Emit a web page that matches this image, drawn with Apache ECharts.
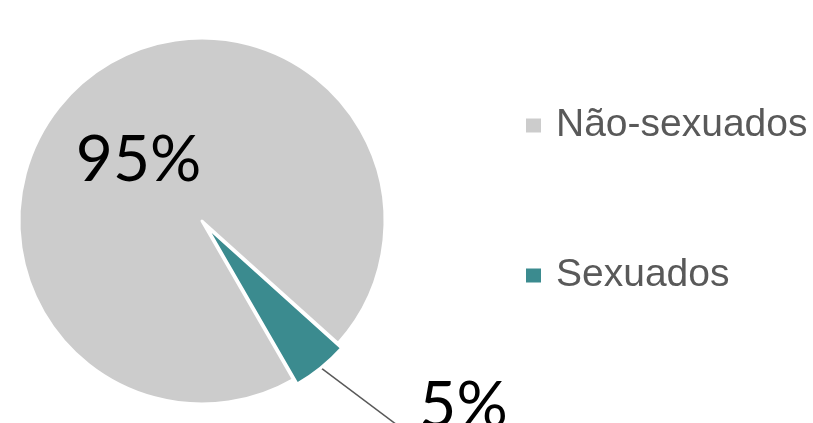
<!DOCTYPE html>
<html>
<head>
<meta charset="utf-8">
<script src="https://cdn.jsdelivr.net/npm/echarts@6/dist/echarts.min.js"></script>
<style>
  html, body { margin: 0; padding: 0; background: #fff; }
  #chart { width: 813px; height: 423px; }
</style>
</head>
<body>
<div id="chart"></div>
<script>
const categories = ['Não-sexuados', 'Sexuados'];
const values = [95, 5];
const colors = ['#cccccc', '#3b8b8f'];

const chart = echarts.init(document.getElementById('chart'));

const pieData = categories.map((name, i) => ({
  name,
  value: values[i],
  itemStyle: { color: colors[i] },
  selected: i === 1,
  label: i === 0
    ? { position: 'inside', offset: [-4, 13] }
    : { position: 'outside' },
  labelLine: { show: i === 1 },
}));

chart.setOption({
  animation: false,
  legend: {
    orient: 'vertical',
    left: 519,
    top: 101,
    itemGap: 111,
    itemWidth: 17,
    itemHeight: 16,
    icon: 'rect',
    selectedMode: false,
    data: categories,
    textStyle: {
      color: '#595959',
      fontFamily: 'Liberation Sans, Arial',
      fontSize: 39,
      padding: [0, 0, 0, 9],
    },
  },
  series: [
    {
      type: 'pie',
      center: [202, 221],
      radius: 183,
      startAngle: 300,
      clockwise: true,
      selectedMode: 'single',
      selectedOffset: 6,
      avoidLabelOverlap: false,
      itemStyle: { borderColor: '#ffffff', borderWidth: 3 },
      label: {
        formatter: '{d}%',
        color: '#000000',
        fontFamily: 'Lato',
        fontSize: 64,
      },
      labelLine: {
        length: 45,
        length2: 55,
        lineStyle: { color: '#595959', width: 1.5 },
      },
      labelLayout: function (params) {
        if (params.dataIndex === 1 && params.labelLinePoints) {
          // straight leader line running down past the bottom edge
          const p0 = params.labelLinePoints[0];
          return {
            dx: 10,
            dy: 4,
            labelLinePoints: [p0, [p0[0] + 100, p0[1] + 75]],
          };
        }
        return {};
      },
      emphasis: { disabled: true },
      data: pieData,
    },
  ],
});
</script>
</body>
</html>
